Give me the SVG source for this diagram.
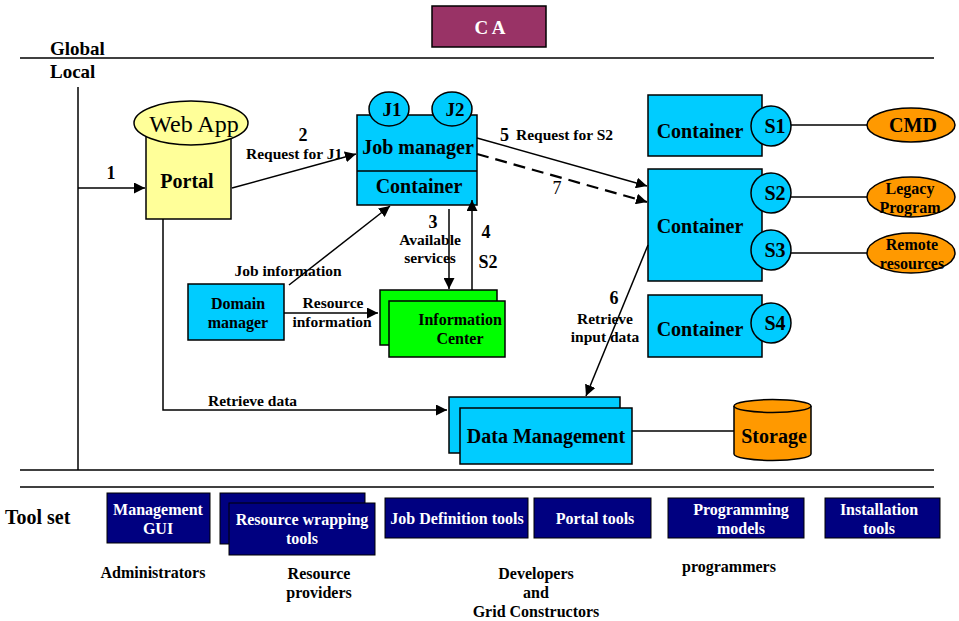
<svg xmlns="http://www.w3.org/2000/svg" width="959" height="621" viewBox="0 0 959 621">
<defs>
<marker id="ah" viewBox="0 0 10 10" refX="10" refY="5" markerWidth="11" markerHeight="11" markerUnits="userSpaceOnUse" orient="auto"><path d="M0,0 L10,5 L0,10 z" fill="#000"/></marker>
<style>
text{font-family:"Liberation Serif","Times New Roman",serif;font-weight:bold;fill:#000}
.m{text-anchor:middle}
.lb{font-size:15.5px}
.big{font-size:20px}
.cy{fill:#00CCFF;stroke:#000;stroke-width:1.5}
.gr{fill:#00FF00;stroke:#000;stroke-width:1.5}
.or{fill:#FF9900;stroke:#000;stroke-width:1.5}
.nv{fill:#000080;stroke:#000;stroke-width:1}
.wt{fill:#fff;font-size:16px;text-anchor:middle}
.ln{stroke:#000;stroke-width:1.5;fill:none}
.bl{font-size:16px;text-anchor:middle}
.num{font-size:18px;text-anchor:middle}
.s{font-size:20px;text-anchor:middle}
</style>
</defs>
<rect width="959" height="621" fill="#fff"/>
<g id="ca"><rect x="432" y="6" width="114" height="41" fill="#993366" stroke="#000" stroke-width="1.5"/><text x="490" y="34" class="m" style="fill:#fff;font-size:19px">C A</text></g>
<g id="frame">
<line x1="20" y1="58" x2="934" y2="58" class="ln"/>
<line x1="20" y1="470" x2="934" y2="470" class="ln"/>
<line x1="20" y1="487" x2="934" y2="487" class="ln"/>
<line x1="78" y1="87" x2="78" y2="470" class="ln"/>
<text x="50" y="55" style="font-size:19px">Global</text>
<text x="50" y="78" style="font-size:19px">Local</text>
<text x="5" y="524" style="font-size:20px">Tool set</text>
</g>
<g id="portal">
<rect x="146" y="130" width="85" height="89" fill="#FFFF99" stroke="#000" stroke-width="1.5"/>
<ellipse cx="191" cy="123" rx="57" ry="22" fill="#FFFF99" stroke="#000" stroke-width="1.5"/>
<text x="194" y="132" class="m" style="font-weight:normal;font-size:24px">Web App</text>
<text x="187" y="188" class="m big">Portal</text>
</g>
<g id="jobmanager">
<rect x="357" y="115" width="120" height="90" class="cy"/>
<line x1="357" y1="171" x2="477" y2="171" class="ln"/>
<ellipse cx="389" cy="109" rx="20" ry="17" class="cy"/>
<ellipse cx="452" cy="109" rx="20" ry="17" class="cy"/>
<text x="392" y="116" class="m" style="font-size:19px">J1</text>
<text x="455" y="116" class="m" style="font-size:19px">J2</text>
<text x="418" y="154" class="m big">Job manager</text>
<text x="419" y="193" class="m big">Container</text>
</g>
<g id="domain">
<rect x="188" y="284" width="96" height="56" class="cy"/>
<text x="238" y="309" class="bl">Domain</text>
<text x="238" y="328" class="bl">manager</text>
</g>
<g id="infocenter">
<rect x="380" y="290" width="117" height="55" class="gr"/>
<rect x="389" y="301" width="116" height="56" class="gr"/>
<text x="460" y="325" class="bl">Information</text>
<text x="460" y="344" class="bl">Center</text>
</g>
<g id="container1">
<rect x="648" y="95" width="114" height="61" class="cy"/>
<text x="700" y="138" class="s">Container</text>
<circle cx="771" cy="126" r="20" class="cy"/>
<text x="775" y="133" class="s">S1</text>
</g>
<g id="container2">
<rect x="648" y="169" width="114" height="112" class="cy"/>
<text x="700" y="233" class="s">Container</text>
<circle cx="771" cy="193" r="20" class="cy"/>
<text x="775" y="200" class="s">S2</text>
<circle cx="771" cy="250" r="20" class="cy"/>
<text x="775" y="257" class="s">S3</text>
</g>
<g id="container3">
<rect x="648" y="295" width="114" height="62" class="cy"/>
<text x="700" y="336" class="s">Container</text>
<circle cx="771" cy="323" r="20" class="cy"/>
<text x="775" y="330" class="s">S4</text>
</g>
<g id="cmd"><ellipse cx="911" cy="125" rx="44" ry="17" class="or"/><text x="913" y="132" class="s">CMD</text></g>
<g id="legacy"><ellipse cx="911" cy="197" rx="44" ry="20" class="or"/><text x="910" y="194" class="bl">Legacy</text><text x="910" y="213" class="bl">Program</text></g>
<g id="remote"><ellipse cx="911" cy="253" rx="44" ry="20" class="or"/><text x="912" y="250" class="bl">Remote</text><text x="912" y="269" class="bl">resources</text></g>
<g id="datamgmt">
<rect x="449" y="397" width="171" height="56" class="cy"/>
<rect x="460" y="408" width="172" height="56" class="cy"/>
<text x="546" y="443" class="m big">Data Management</text>
</g>
<g id="storage">
<path d="M734,406 L734,454 A38.5,6.5 0 0 0 811,454 L811,406" class="or"/>
<ellipse cx="772.5" cy="406" rx="38.5" ry="6.5" class="or"/>
<text x="774" y="443" class="m big">Storage</text>
</g>
<g id="tools">
<rect x="107" y="493" width="103" height="50" class="nv"/>
<text x="158" y="515" class="wt">Management</text><text x="158" y="534" class="wt">GUI</text>
<rect x="220" y="493" width="145" height="51" class="nv"/>
<rect x="229" y="503" width="146" height="52" class="nv"/>
<text x="302" y="525" class="wt">Resource wrapping</text><text x="302" y="544" class="wt">tools</text>
<rect x="385" y="498" width="143" height="40" class="nv"/>
<text x="457" y="524" class="wt">Job Definition tools</text>
<rect x="534" y="498" width="117" height="40" class="nv"/>
<text x="595" y="524" class="wt">Portal tools</text>
<rect x="668" y="498" width="136" height="40" class="nv"/>
<text x="741" y="515" class="wt">Programming</text><text x="741" y="534" class="wt">models</text>
<rect x="825" y="498" width="115" height="40" class="nv"/>
<text x="879" y="515" class="wt">Installation</text><text x="879" y="534" class="wt">tools</text>
<text x="153" y="578" class="bl">Administrators</text>
<text x="319" y="579" class="bl">Resource</text>
<text x="319" y="598" class="bl">providers</text>
<text x="536" y="579" class="bl">Developers</text>
<text x="536" y="598" class="bl">and</text>
<text x="536" y="617" class="bl">Grid Constructors</text>
<text x="729" y="572" class="bl">programmers</text>
</g>
<g id="connectors">
<line x1="78" y1="188" x2="145" y2="188" class="ln" marker-end="url(#ah)"/>
<text x="111" y="179" class="num">1</text>
<line x1="232" y1="188" x2="356" y2="154" class="ln" marker-end="url(#ah)"/>
<text x="303" y="141" class="num">2</text>
<text x="246" y="159" class="lb">Request for J1</text>
<polyline points="163,219 163,410 447,410" class="ln" marker-end="url(#ah)"/>
<text x="208" y="406" class="lb">Retrieve data</text>
<line x1="289" y1="285" x2="390" y2="206" class="ln" marker-end="url(#ah)"/>
<text x="288" y="276" class="m lb">Job information</text>
<line x1="284" y1="313" x2="378" y2="313" class="ln" marker-end="url(#ah)"/>
<text x="333" y="308" class="m lb">Resource</text>
<text x="332" y="327" class="m lb">information</text>
<line x1="449" y1="209" x2="449" y2="289" class="ln" marker-end="url(#ah)"/>
<text x="433" y="228" class="num">3</text>
<text x="430" y="245" class="m lb">Available</text>
<text x="430" y="263" class="m lb">services</text>
<line x1="472" y1="290" x2="472" y2="200" class="ln" marker-end="url(#ah)"/>
<text x="486" y="238" class="num">4</text>
<text x="488" y="268" class="num">S2</text>
<line x1="477" y1="138" x2="647" y2="186" class="ln" marker-end="url(#ah)"/>
<text x="500" y="141" style="font-size:18px">5</text>
<text x="516" y="140" class="lb">Request for S2</text>
<line x1="477" y1="154" x2="647" y2="202" class="ln" stroke-dasharray="12,7" marker-end="url(#ah)" style="stroke-width:2.2"/>
<text x="557" y="194" style="font-size:18px;font-weight:normal;text-anchor:middle">7</text>
<line x1="648" y1="245" x2="586" y2="396" class="ln" marker-end="url(#ah)"/>
<text x="614" y="304" class="num">6</text>
<text x="605" y="324" class="m lb">Retrieve</text>
<text x="605" y="342" class="m lb">input data</text>
<line x1="791" y1="125" x2="867" y2="125" class="ln"/>
<line x1="791" y1="197" x2="867" y2="197" class="ln"/>
<line x1="791" y1="253" x2="867" y2="253" class="ln"/>
<line x1="632" y1="431" x2="734" y2="431" class="ln"/>
</g>
</svg>
